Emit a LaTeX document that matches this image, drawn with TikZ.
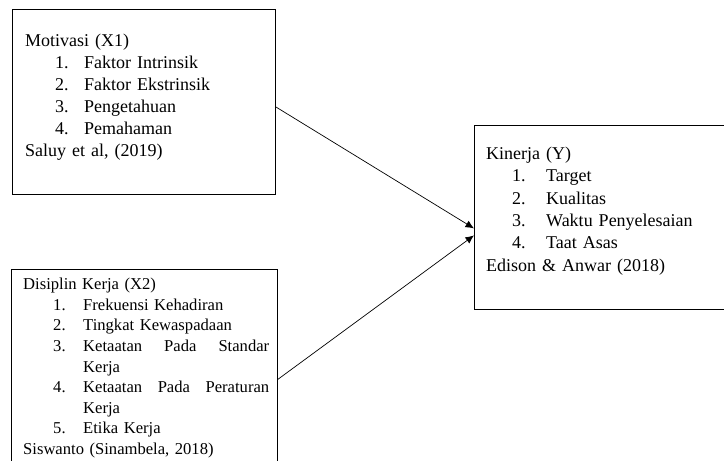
\documentclass[tikz,border=0pt]{standalone}
\usepackage{fontspec}
\setmainfont{Liberation Serif}
\usetikzlibrary{arrows.meta}
\newlength{\lind}
\newlength{\lnum}
\newcommand{\litem}[2]{\hspace*{\lind}\makebox[\lnum][l]{#1}#2}

\begin{document}
\begin{tikzpicture}[x=1pt, y=1pt,
    box/.style={rectangle, draw, line width=0.8pt, anchor=north west, inner sep=0pt},
    txt/.style={anchor=north west, inner sep=0pt, align=left, text width=#1},
    arrow/.style={->, line width=0.7pt, >={Latex[length=8.5pt,width=7.5pt]}}
]
\useasboundingbox (0,0) rectangle (724,461);
\clip (0,0) rectangle (724,461);

% variable boxes
\node[box, minimum width=263pt, minimum height=185pt] (mot) at (12,452) {};
\node[box, minimum width=266pt, minimum height=210pt] (dis) at (11,192) {};
\node[box, minimum width=256pt, minimum height=184pt] (kin) at (474,336) {};

\node[txt=240pt, font={\fontsize{18}{22}\selectfont}] (motText) at (25,427) {%
    \setlength{\lind}{30pt}\setlength{\lnum}{29pt}%
    Motivasi (X1)\\
    \litem{1.}{Faktor Intrinsik}\\
    \litem{2.}{Faktor Ekstrinsik}\\
    \litem{3.}{Pengetahuan}\\
    \litem{4.}{Pemahaman}\\
    Saluy et al, (2019)
};

\node[txt=250pt, font={\fontsize{16.6}{20.6}\selectfont}] (disText) at (23,183) {%
    \setlength{\lind}{30pt}\setlength{\lnum}{30pt}%
    Disiplin Kerja (X2)\\
    \litem{1.}{Frekuensi Kehadiran}\\
    \litem{2.}{Tingkat Kewaspadaan}\\
    \litem{3.}{\hbox to 186pt{Ketaatan\hfill Pada\hfill Standar}}\\
    \litem{}{Kerja}\\
    \litem{4.}{\hbox to 186pt{Ketaatan\hfill Pada\hfill Peraturan}}\\
    \litem{}{Kerja}\\
    \litem{5.}{Etika Kerja}\\
    Siswanto (Sinambela, 2018)
};

\node[txt=230pt, font={\fontsize{18}{22.3}\selectfont}] (kinText) at (486,314) {%
    \setlength{\lind}{26pt}\setlength{\lnum}{34pt}%
    Kinerja (Y)\\
    \litem{1.}{Target}\\
    \litem{2.}{Kualitas}\\
    \litem{3.}{Waktu Penyelesaian}\\
    \litem{4.}{Taat Asas}\\
    Edison \& Anwar (2018)
};

\draw[arrow] ([yshift=-5pt]mot.east) -- ([yshift=-11pt]kin.west);
\draw[arrow] ([yshift=-5pt]dis.east) -- ([yshift=-18pt]kin.west);

\end{tikzpicture}
\end{document}
